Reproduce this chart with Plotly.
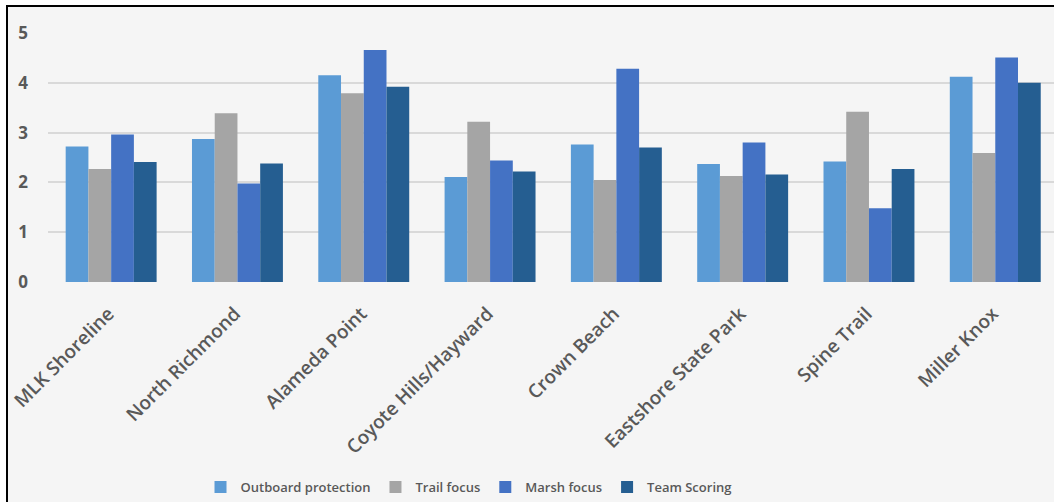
import plotly.graph_objects as go

categories = ["MLK Shoreline", "North Richmond", "Alameda Point", "Coyote Hills/Hayward",
              "Crown Beach", "Eastshore State Park", "Spine Trail", "Miller Knox"]
outboard_protection = [2.72, 2.87, 4.15, 2.11, 2.76, 2.37, 2.42, 4.12]
trail_focus = [2.27, 3.39, 3.79, 3.22, 2.05, 2.13, 3.42, 2.59]
marsh_focus = [2.96, 1.98, 4.66, 2.44, 4.28, 2.80, 1.48, 4.51]
team_scoring = [2.41, 2.38, 3.92, 2.22, 2.70, 2.16, 2.27, 4.00]
y_ticks = [0, 1, 2, 3, 4, 5]

series = [
    ("Outboard protection", outboard_protection, "#5B9BD5"),
    ("Trail focus", trail_focus, "#A5A5A5"),
    ("Marsh focus", marsh_focus, "#4472C4"),
    ("Team Scoring", team_scoring, "#255E91"),
]

idx = list(range(len(categories)))
label_shift = -0.02  # labels sit a touch left of the group centre, as in the original

fig = go.Figure()
for name, vals, color in series:
    fig.add_trace(go.Bar(x=idx, y=vals, name=name,
                         marker=dict(color=color, line=dict(width=0)),
                         hoverinfo="skip"))

W, H = 1054, 502
L, T, B = 48, 33, 283
fig.update_layout(
    width=W, height=H,
    margin=dict(l=L, r=0, t=T, b=H - B, pad=0),
    paper_bgcolor="white",
    plot_bgcolor="rgba(0,0,0,0)",
    barmode="group", bargap=0.28, bargroupgap=0,
    showlegend=True,
    legend=dict(orientation="h", x=0.418, xanchor="center", y=-0.82, yanchor="middle",
                font=dict(family="Open Sans", size=13, color="#595959", weight=600),
                bgcolor="rgba(0,0,0,0)", traceorder="normal", itemwidth=30),
    xaxis=dict(range=[-0.5, 7.465], tickangle=-45, showgrid=False, zeroline=False,
               showline=False, ticks="", ticklabelstandoff=16,
               tickmode="array", tickvals=[i + label_shift for i in idx], ticktext=categories,
               tickfont=dict(family="Open Sans", size=19, color="#595959", weight=600)),
    yaxis=dict(range=[0, 5], tickvals=y_ticks, showgrid=True, gridcolor="#D9D9D9",
               gridwidth=1.5, zeroline=False, showline=False, ticks="",
               ticklabelstandoff=19,
               tickfont=dict(family="Open Sans", size=17, color="#595959", weight=700)),
    shapes=[dict(type="rect", xref="paper", yref="paper",
                 x0=(7 - L) / (W - L), x1=1.05, y0=-1.0, y1=(B - 6) / (B - T),
                 fillcolor="#F5F5F5", line=dict(color="black", width=2), layer="below")],
)

fig.write_html("out.html")
